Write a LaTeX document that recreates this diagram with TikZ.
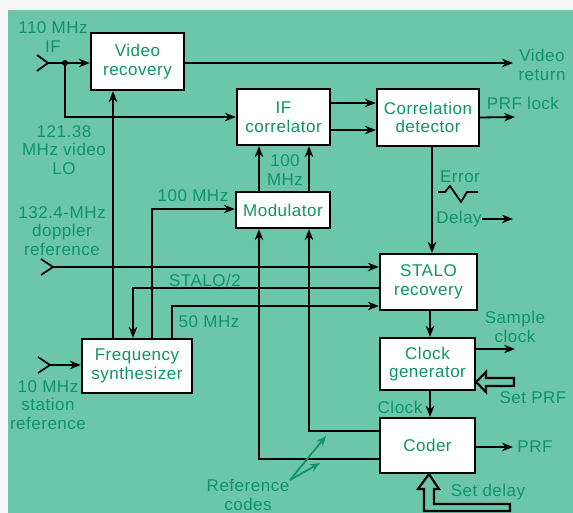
\documentclass[tikz,border=0pt]{standalone}
\usepackage{fontspec}
\setmainfont[LetterSpace=3]{Liberation Sans}
\usetikzlibrary{arrows.meta,calc}
\definecolor{bg}{RGB}{108,198,170}
\definecolor{tg}{RGB}{14,148,106}
\newcommand\dfont{\fontsize{17}{18.5}\selectfont}
\begin{document}
\begin{tikzpicture}[x=1pt,y=-1pt,
  box/.style={draw=black,line width=2.2pt,fill=white,align=center,text=tg,font=\dfont,inner sep=0pt},
  lbl/.style={text=tg,align=center,font=\dfont,inner sep=0pt},
  wire/.style={line width=1.8pt,line join=miter},
  arr/.style={wire,-{Stealth[length=11pt,width=8.5pt]}},
  garr/.style={line width=1.8pt,draw=tg,-{Stealth[length=10pt,width=8pt]}},
  hollow/.style={line width=2.2pt,fill=bg,line join=miter}]
\useasboundingbox (0,0) rectangle (573,513);
\fill[white!97!black] (0,0) rectangle (573,513);
\fill[bg] (8,10) rectangle (573,513);

% boxes
\node[box,minimum width=93pt,minimum height=57pt] (vr) at (137.5,61.5) {Video\\recovery};
\node[box,minimum width=93pt,minimum height=56pt] (ifc) at (283.5,117) {IF\\correlator};
\node[box,minimum width=102pt,minimum height=57pt] (cd) at (428,117.5) {Correlation\\detector};
\node[box,minimum width=94pt,minimum height=36pt] (mod) at (283,210) {Modulator};
\node[box,minimum width=97pt,minimum height=56pt] (stalo) at (428.5,282) {STALO\\recovery};
\node[box,minimum width=95pt,minimum height=52pt] (clk) at (427.5,364) {Clock\\generator};
\node[box,minimum width=95pt,minimum height=55pt] (coder) at (427.5,445.5) {Coder};
\node[box,minimum width=110pt,minimum height=54pt] (fs) at (137,366) {Frequency\\synthesizer};

% coordinates
\coordinate (ifin) at (48,63);
\coordinate (dot) at (65,63);
\coordinate (vret) at (513,63);
\coordinate (prflock) at (515,117);
\coordinate (dopin) at (53,267);
\coordinate (tenin) at (50,365);
\coordinate (delayA) at (482,219);
\coordinate (delayB) at (513,219);
\coordinate (sclk) at (515,349);
\coordinate (prfout) at (513,447);
\coordinate (refc) at (290,480);

% inputs (chevrons)
\draw[wire] (37,55) -- (ifin) -- (37,71);
\draw[wire] (41,259) -- (dopin) -- (41,275);
\draw[wire] (38,357) -- (tenin) -- (38,373);

% IF input
\draw[arr] (ifin) -- (ifin -| vr.west);
\fill (dot) circle (3pt);
\draw[arr] (dot) |- (ifc.west);
\draw[arr] (vr.east |- vret) -- (vret);

% IF correlator -> correlation detector
\draw[arr] (ifc.east |- 0,103) -- (cd.west |- 0,103);
\draw[arr] (ifc.east |- 0,130) -- (cd.west |- 0,130);
\draw[arr] (cd.east) -- (prflock);
\draw[arr] (cd.south -| 432,0) -- (stalo.north -| 432,0);

% error / delay
\draw[wire,line join=round] (438,192) -- (445,192) -- (450,186) -- (461,202) -- (467,192) -- (478,192);
\draw[arr] (delayA) -- (delayB);

% modulator -> IF correlator
\draw[arr] (mod.north -| 259,0) -- (ifc.south -| 259,0);
\draw[arr] (mod.north -| 309,0) -- (ifc.south -| 309,0);

% coder -> modulator (reference codes)
\draw[arr] (coder.west |- 0,459) -| (mod.south -| 259,0);
\draw[arr] (coder.west |- 0,431) -| (mod.south -| 309,0);

% frequency synthesizer outputs
\draw[arr] (fs.north -| 113,0) -- (vr.south -| 113,0);
\draw[arr] (stalo.west |- 0,288) -| (fs.north -| 133,0);
\draw[arr] (fs.north -| 152,0) |- (mod.west |- 0,209);
\draw[arr] (fs.north -| 172,0) |- (stalo.west |- 0,306);

% doppler and 10 MHz
\draw[arr] (dopin) -- (dopin -| stalo.west);
\draw[arr] (tenin) -- (tenin -| fs.west);

% STALO -> clock -> coder
\draw[arr] (stalo.south -| 430,0) -- (clk.north -| 430,0);
\draw[arr] (clk.south -| 430,0) -- (coder.north -| 430,0);
\draw[arr] (clk.east |- sclk) -- (sclk);
\draw[arr] (coder.east |- prfout) -- (prfout);

% hollow arrows
\draw[hollow] (clk.east |- 0,382) -- (486,372) -- (486,378) -- (514,378) -- (514,386) -- (486,386) -- (486,392) -- cycle;
\draw[hollow] (coder.south -| 429,0) -- (439,489) -- (434,489) -- (434,504) -- (510,504) -- (510,511) -- (424,511) -- (424,489) -- (418,489) -- cycle;

% reference codes pointers
\draw[garr] (refc) -- (326,436);
\draw[garr] (refc) -- (320,463);

% labels
\node[lbl] at (53,37) {110 MHz\\IF};
\node[lbl] at (542,65) {Video\\return};
\node[lbl] at (523,103) {PRF lock};
\node[lbl] at (64,150) {121.38\\MHz video\\LO};
\node[lbl] at (285,170) {100\\MHz};
\node[lbl] at (193,196) {100 MHz};
\node[lbl] at (460,177) {Error};
\node[lbl] at (459,219) {Delay};
\node[lbl] at (62,231) {132.4-MHz\\doppler\\reference};
\node[lbl] at (205,280) {STALO/2};
\node[lbl] at (209,322) {50 MHz};
\node[lbl] at (48,405) {10 MHz\\station\\reference};
\node[lbl] at (515,327) {Sample\\clock};
\node[lbl] at (533,398) {Set PRF};
\node[lbl] at (400,407) {Clock};
\node[lbl] at (535,447) {PRF};
\node[lbl] at (488,492) {Set delay};
\node[lbl] at (248,495) {Reference\\codes};
\end{tikzpicture}
\end{document}
